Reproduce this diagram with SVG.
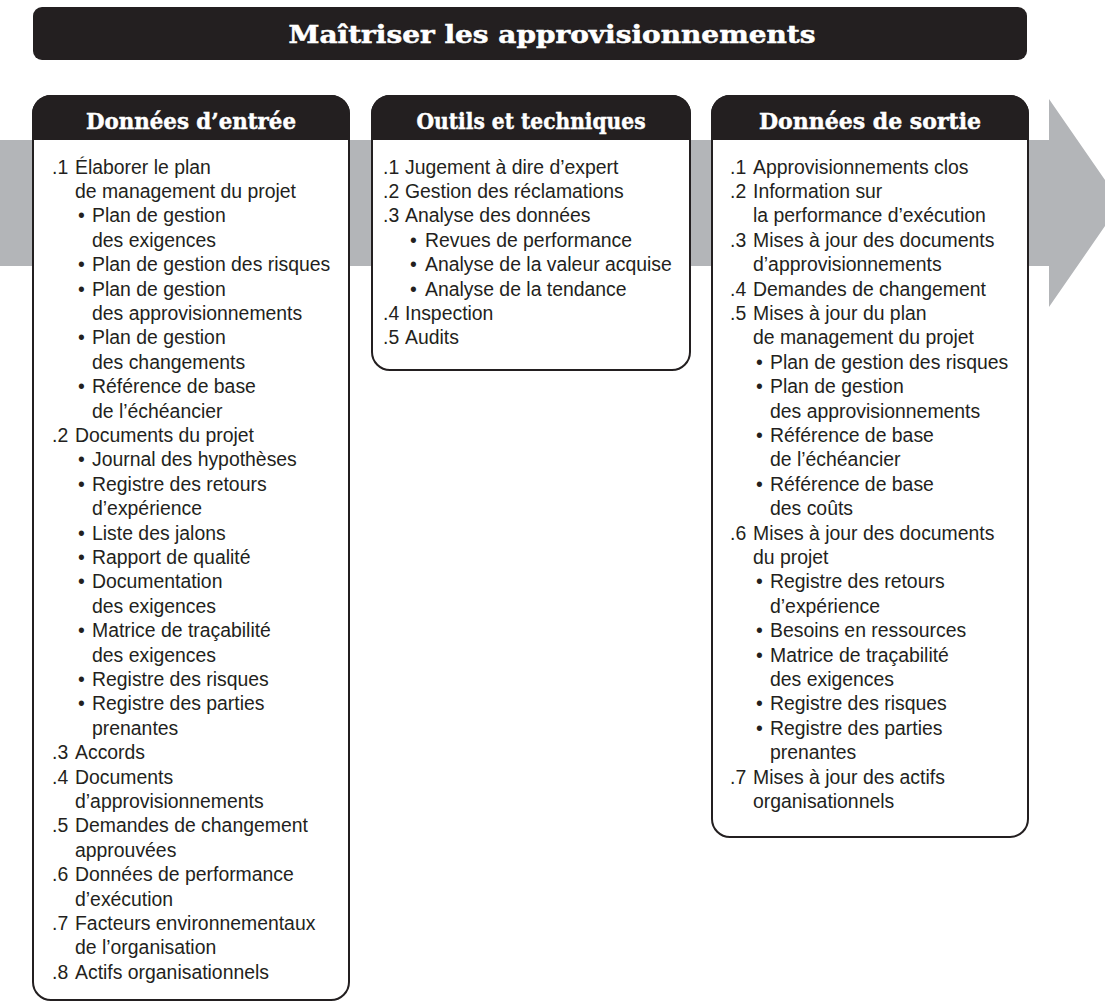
<svg xmlns="http://www.w3.org/2000/svg" width="1105" height="1002" viewBox="0 0 1105 1002">
  <style>
    .bar { fill: #231f20; }
    .box { fill: #ffffff; stroke: #231f20; stroke-width: 2; }
    .head { fill: #231f20; }
    .htxt { font-family: "DejaVu Serif", "Liberation Serif", serif; font-weight: bold; font-size: 22.5px; fill: #ffffff; stroke: #ffffff; stroke-width: 0.5; text-anchor: middle; }
    .ttl { font-family: "DejaVu Serif", "Liberation Serif", serif; font-weight: bold; font-size: 23.5px; fill: #ffffff; stroke: #ffffff; stroke-width: 0.5; text-anchor: middle; }
    .t { font-family: "Liberation Sans", Arial, sans-serif; font-size: 19.4px; fill: #231f20; }
    .flow { fill: #b3b5b8; }
  </style>

  <!-- process title -->
  <g id="title">
    <rect class="bar" x="33" y="7" width="994" height="53" rx="9" ry="9"/>
    <text class="ttl" x="552" y="43" textLength="527" lengthAdjust="spacingAndGlyphs">Maîtriser les approvisionnements</text>
  </g>

  <!-- wide flow arrow running behind the three columns -->
  <g id="connectors">
    <path class="flow" d="M0,140 H1049 V99 L1121,203 L1049,307 V266 H0 Z"/>
  </g>

  <!-- inputs column -->
  <g id="inputs">
    <path class="box" d="M33,114 A18,18 0 0 1 51,96 H331 A18,18 0 0 1 349,114 V982 A18,18 0 0 1 331,1000 H51 A18,18 0 0 1 33,982 Z"/>
    <path class="head" d="M32,140 V114 A19,19 0 0 1 51,95 H331 A19,19 0 0 1 350,114 V140 Z"/>
    <text class="htxt" x="191" y="129" textLength="210" lengthAdjust="spacingAndGlyphs">Données d’entrée</text>
    <g class="t">
      <text x="52" y="173.5">.1</text><text x="75" y="173.5">Élaborer le plan</text>
      <text x="75" y="197.9">de management du projet</text>
      <text x="78" y="222.3">•</text><text x="92" y="222.3">Plan de gestion</text>
      <text x="92" y="246.7">des exigences</text>
      <text x="78" y="271.1">•</text><text x="92" y="271.1">Plan de gestion des risques</text>
      <text x="78" y="295.5">•</text><text x="92" y="295.5">Plan de gestion</text>
      <text x="92" y="319.9">des approvisionnements</text>
      <text x="78" y="344.3">•</text><text x="92" y="344.3">Plan de gestion</text>
      <text x="92" y="368.7">des changements</text>
      <text x="78" y="393.1">•</text><text x="92" y="393.1">Référence de base</text>
      <text x="92" y="417.5">de l’échéancier</text>
      <text x="52" y="441.9">.2</text><text x="75" y="441.9">Documents du projet</text>
      <text x="78" y="466.3">•</text><text x="92" y="466.3">Journal des hypothèses</text>
      <text x="78" y="490.7">•</text><text x="92" y="490.7">Registre des retours</text>
      <text x="92" y="515.1">d’expérience</text>
      <text x="78" y="539.5">•</text><text x="92" y="539.5">Liste des jalons</text>
      <text x="78" y="563.9">•</text><text x="92" y="563.9">Rapport de qualité</text>
      <text x="78" y="588.3">•</text><text x="92" y="588.3">Documentation</text>
      <text x="92" y="612.7">des exigences</text>
      <text x="78" y="637.1">•</text><text x="92" y="637.1">Matrice de traçabilité</text>
      <text x="92" y="661.5">des exigences</text>
      <text x="78" y="685.9">•</text><text x="92" y="685.9">Registre des risques</text>
      <text x="78" y="710.3">•</text><text x="92" y="710.3">Registre des parties</text>
      <text x="92" y="734.7">prenantes</text>
      <text x="52" y="759.1">.3</text><text x="75" y="759.1">Accords</text>
      <text x="52" y="783.5">.4</text><text x="75" y="783.5">Documents</text>
      <text x="75" y="807.9">d’approvisionnements</text>
      <text x="52" y="832.3">.5</text><text x="75" y="832.3">Demandes de changement</text>
      <text x="75" y="856.7">approuvées</text>
      <text x="52" y="881.1">.6</text><text x="75" y="881.1">Données de performance</text>
      <text x="75" y="905.5">d’exécution</text>
      <text x="52" y="929.9">.7</text><text x="75" y="929.9">Facteurs environnementaux</text>
      <text x="75" y="954.3">de l’organisation</text>
      <text x="52" y="978.7">.8</text><text x="75" y="978.7">Actifs organisationnels</text>
    </g>
  </g>

  <!-- tools and techniques column -->
  <g id="tools">
    <path class="box" d="M372,114 A18,18 0 0 1 390,96 H672 A18,18 0 0 1 690,114 V352 A18,18 0 0 1 672,370 H390 A18,18 0 0 1 372,352 Z"/>
    <path class="head" d="M371,140 V114 A19,19 0 0 1 390,95 H672 A19,19 0 0 1 691,114 V140 Z"/>
    <text class="htxt" x="531" y="129" textLength="229" lengthAdjust="spacingAndGlyphs">Outils et techniques</text>
    <g class="t">
      <text x="383" y="173.5">.1</text><text x="405" y="173.5">Jugement à dire d’expert</text>
      <text x="383" y="197.9">.2</text><text x="405" y="197.9">Gestion des réclamations</text>
      <text x="383" y="222.3">.3</text><text x="405" y="222.3">Analyse des données</text>
      <text x="410" y="246.7">•</text><text x="425" y="246.7">Revues de performance</text>
      <text x="410" y="271.1">•</text><text x="425" y="271.1">Analyse de la valeur acquise</text>
      <text x="410" y="295.5">•</text><text x="425" y="295.5">Analyse de la tendance</text>
      <text x="383" y="319.9">.4</text><text x="405" y="319.9">Inspection</text>
      <text x="383" y="344.3">.5</text><text x="405" y="344.3">Audits</text>
    </g>
  </g>

  <!-- outputs column -->
  <g id="outputs">
    <path class="box" d="M712,114 A18,18 0 0 1 730,96 H1010 A18,18 0 0 1 1028,114 V819 A18,18 0 0 1 1010,837 H730 A18,18 0 0 1 712,819 Z"/>
    <path class="head" d="M711,140 V114 A19,19 0 0 1 730,95 H1010 A19,19 0 0 1 1029,114 V140 Z"/>
    <text class="htxt" x="870" y="129" textLength="222" lengthAdjust="spacingAndGlyphs">Données de sortie</text>
    <g class="t">
      <text x="730" y="173.5">.1</text><text x="753" y="173.5">Approvisionnements clos</text>
      <text x="730" y="197.9">.2</text><text x="753" y="197.9">Information sur</text>
      <text x="753" y="222.3">la performance d’exécution</text>
      <text x="730" y="246.7">.3</text><text x="753" y="246.7">Mises à jour des documents</text>
      <text x="753" y="271.1">d’approvisionnements</text>
      <text x="730" y="295.5">.4</text><text x="753" y="295.5">Demandes de changement</text>
      <text x="730" y="319.9">.5</text><text x="753" y="319.9">Mises à jour du plan</text>
      <text x="753" y="344.3">de management du projet</text>
      <text x="756" y="368.7">•</text><text x="770" y="368.7">Plan de gestion des risques</text>
      <text x="756" y="393.1">•</text><text x="770" y="393.1">Plan de gestion</text>
      <text x="770" y="417.5">des approvisionnements</text>
      <text x="756" y="441.9">•</text><text x="770" y="441.9">Référence de base</text>
      <text x="770" y="466.3">de l’échéancier</text>
      <text x="756" y="490.7">•</text><text x="770" y="490.7">Référence de base</text>
      <text x="770" y="515.1">des coûts</text>
      <text x="730" y="539.5">.6</text><text x="753" y="539.5">Mises à jour des documents</text>
      <text x="753" y="563.9">du projet</text>
      <text x="756" y="588.3">•</text><text x="770" y="588.3">Registre des retours</text>
      <text x="770" y="612.7">d’expérience</text>
      <text x="756" y="637.1">•</text><text x="770" y="637.1">Besoins en ressources</text>
      <text x="756" y="661.5">•</text><text x="770" y="661.5">Matrice de traçabilité</text>
      <text x="770" y="685.9">des exigences</text>
      <text x="756" y="710.3">•</text><text x="770" y="710.3">Registre des risques</text>
      <text x="756" y="734.7">•</text><text x="770" y="734.7">Registre des parties</text>
      <text x="770" y="759.1">prenantes</text>
      <text x="730" y="783.5">.7</text><text x="753" y="783.5">Mises à jour des actifs</text>
      <text x="753" y="807.9">organisationnels</text>
    </g>
  </g>
</svg>
